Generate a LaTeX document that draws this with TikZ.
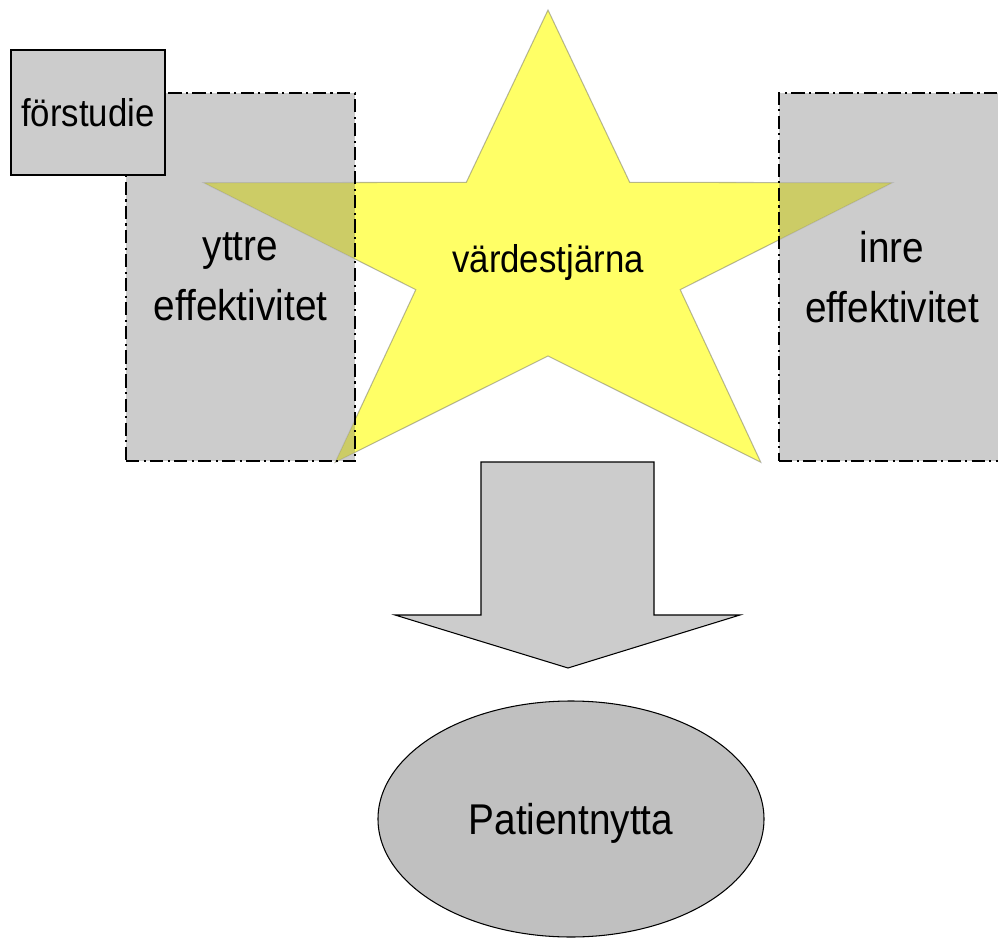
\documentclass[tikz,border=0pt]{standalone}
\usepackage{fontspec}
\setmainfont[FakeStretch=0.9]{Liberation Sans}
\usetikzlibrary{shapes.geometric}
\definecolor{boxgray}{HTML}{CCCCCC}
\definecolor{goalgray}{HTML}{C0C0C0}
\definecolor{staryellow}{HTML}{FFFF66}
\definecolor{staredge}{HTML}{B8B8B8}

\begin{document}
\begin{tikzpicture}[
    x=0.2mm, y=-0.2mm,
    effbox/.style={draw, fill=boxgray, line width=0.6pt, dash pattern=on 7.5pt off 2.5pt on 1.2pt off 2.5pt, align=center, minimum height=73.6mm, inner sep=0pt, font=\fontsize{24.5}{34}\selectfont},
    prebox/.style={draw, fill=boxgray, line width=0.9pt, minimum width=30.8mm, minimum height=25mm, inner sep=0pt, font=\fontsize{22}{26}\selectfont},
    starbody/.style={draw=staredge, fill=staryellow, line width=0.6pt, blend mode=darken},
    blockarrow/.style={draw, fill=boxgray, line width=0.6pt, line join=miter},
    goal/.style={ellipse, draw, fill=goalgray, line width=0.6pt, minimum width=77.2mm, minimum height=47.2mm, inner sep=0pt, text depth=0pt, font=\fontsize{24.5}{30}\selectfont}
]
\useasboundingbox (0,0) rectangle (998,938);
\node[effbox, minimum width=45.8mm] (yttre) at (240.5,277) {yttre\\effektivitet};
\node[effbox, minimum width=45.2mm] (inre) at (892,277) {inre\\effektivitet};
\filldraw[starbody, shift={(548,260)}, xscale=1.448]
  (-90:250) \foreach \a/\r in {-54/96,-18/250,18/96,54/250,90/96,126/250,162/96,198/250,234/96} { -- (\a:\r) } -- cycle;
\node[font=\fontsize{22}{26}\selectfont] (stjarna) at (548,263) {värdestjärna};
\node[prebox] (forstudie) at (88,112.5) {förstudie};
\filldraw[blockarrow] (481,462) -- (654,462) -- (654,615) -- (740,615) -- (568,668) -- (395,615) -- (481,615) -- cycle;
\node[goal] (nytta) at (571,819) {Patientnytta};
\end{tikzpicture}
\end{document}
